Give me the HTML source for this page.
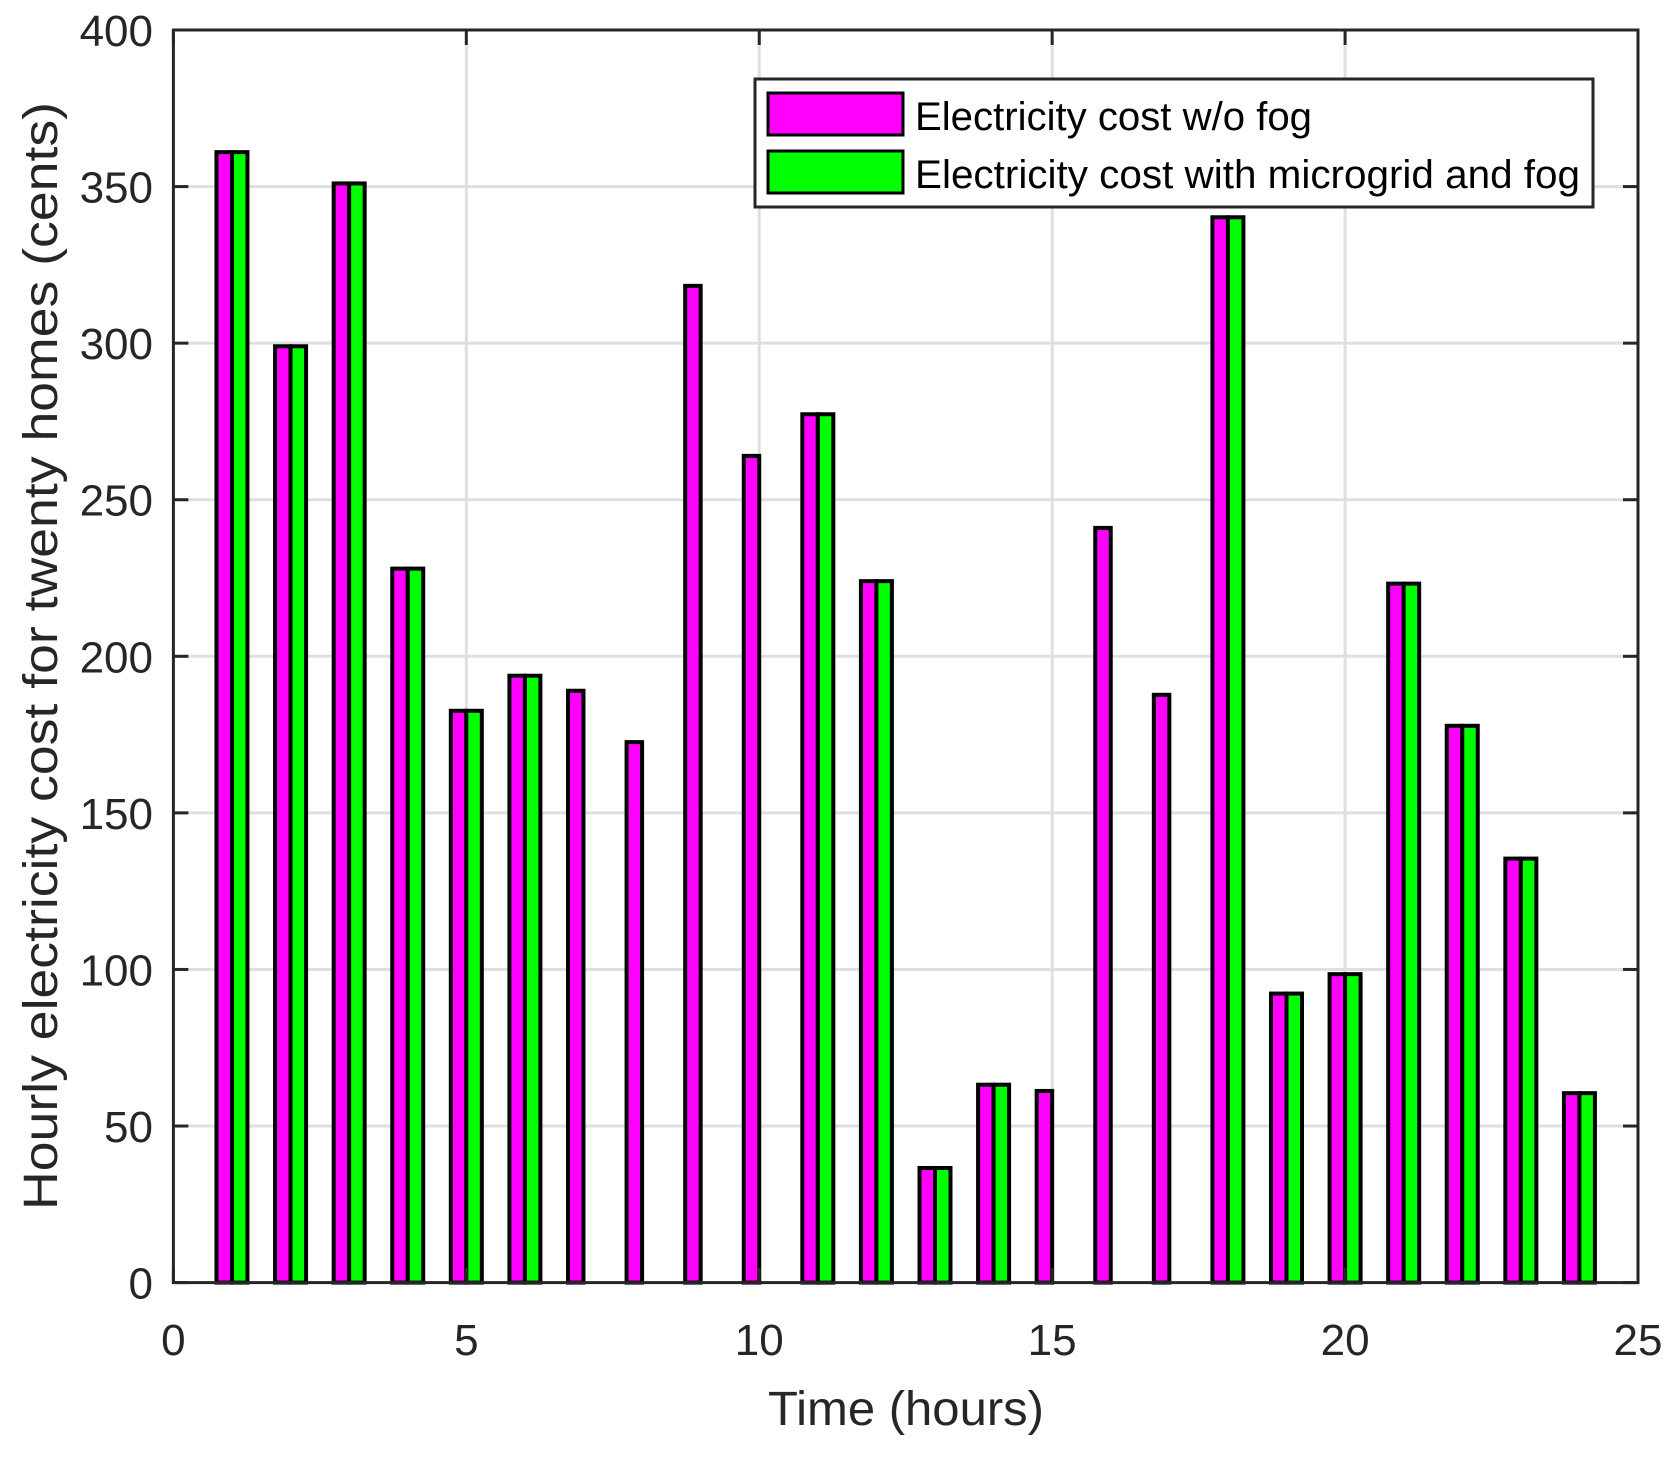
<!DOCTYPE html>
<html><head><meta charset="utf-8"><style>html,body{margin:0;padding:0;background:#fff}svg{display:block}</style></head>
<body>
<svg width="1678" height="1457" viewBox="0 0 1678 1457" xmlns="http://www.w3.org/2000/svg" font-family="Liberation Sans, sans-serif">
<rect width="1678" height="1457" fill="#fff"/>
<g id="grid" stroke="#dfdfdf" stroke-width="3"></g>
<g id="bars" stroke="#000" stroke-width="4"></g>
<g id="axes"></g>
<g id="labels" fill="#262626" font-size="44"></g>
<text x="906" y="1425" font-size="48" fill="#262626" text-anchor="middle" textLength="276" lengthAdjust="spacingAndGlyphs">Time (hours)</text>
<text transform="translate(57,656) rotate(-90)" font-size="48" fill="#262626" text-anchor="middle" textLength="1108" lengthAdjust="spacingAndGlyphs">Hourly electricity cost for twenty homes (cents)</text>
<rect x="755" y="79" width="838" height="128" fill="#fff" stroke="#262626" stroke-width="3"/>
<rect x="768" y="93" width="135" height="42" fill="#ff00ff" stroke="#000" stroke-width="3"/>
<rect x="768" y="151" width="135" height="42" fill="#00ff00" stroke="#000" stroke-width="3"/>
<text x="915" y="130" font-size="40" fill="#000" textLength="397" lengthAdjust="spacingAndGlyphs">Electricity cost w/o fog</text>
<text x="915" y="188" font-size="40" fill="#000" textLength="665" lengthAdjust="spacingAndGlyphs">Electricity cost with microgrid and fog</text>
<script>
const L=173.4,R=1638,T=30,B=1282.6,sx=(R-L)/25,sy=(B-T)/400;
const ns="http://www.w3.org/2000/svg";
function el(p,n,a,t){const e=document.createElementNS(ns,n);for(const k in a)e.setAttribute(k,a[k]);if(t!==undefined)e.textContent=t;document.getElementById(p).appendChild(e);}
for(let i=1;i<5;i++){const x=L+i*5*sx;el('grid','line',{x1:x,y1:T,x2:x,y2:B});}
for(let i=1;i<8;i++){const y=B-i*50*sy;el('grid','line',{x1:L,y1:y,x2:R,y2:y});}
const m=[361,299,351,228,182.6,193.8,189,172.6,318.3,264,277.3,224,36.6,63.2,61.2,241,187.7,340.2,92.3,98.5,223.2,177.8,135.4,60.5];
const none=[7,8,9,10,15,16,17];
m.forEach((v,i)=>{const h=i+1,c=L+h*sx,y=B-v*sy;
el('bars','rect',{x:c-15.5,y:y,width:15.5,height:B-y,fill:'#ff00ff'});
if(!none.includes(h))el('bars','rect',{x:c,y:y,width:15.5,height:B-y,fill:'#00ff00'});});
el('axes','rect',{x:L,y:T,width:R-L,height:B-T,fill:'none',stroke:'#262626','stroke-width':3});
for(let i=0;i<=5;i++){const x=L+i*5*sx;el('axes','line',{x1:x,y1:B,x2:x,y2:B-15,stroke:'#262626','stroke-width':3});el('axes','line',{x1:x,y1:T,x2:x,y2:T+15,stroke:'#262626','stroke-width':3});
el('labels','text',{x:x,y:1355,'text-anchor':'middle'},String(i*5));}
for(let i=0;i<=8;i++){const y=B-i*50*sy;el('axes','line',{x1:L,y1:y,x2:L+15,y2:y,stroke:'#262626','stroke-width':3});el('axes','line',{x1:R,y1:y,x2:R-15,y2:y,stroke:'#262626','stroke-width':3});
el('labels','text',{x:153,y:y+16,'text-anchor':'end'},String(i*50));}
</script>
</svg>
</body></html>
